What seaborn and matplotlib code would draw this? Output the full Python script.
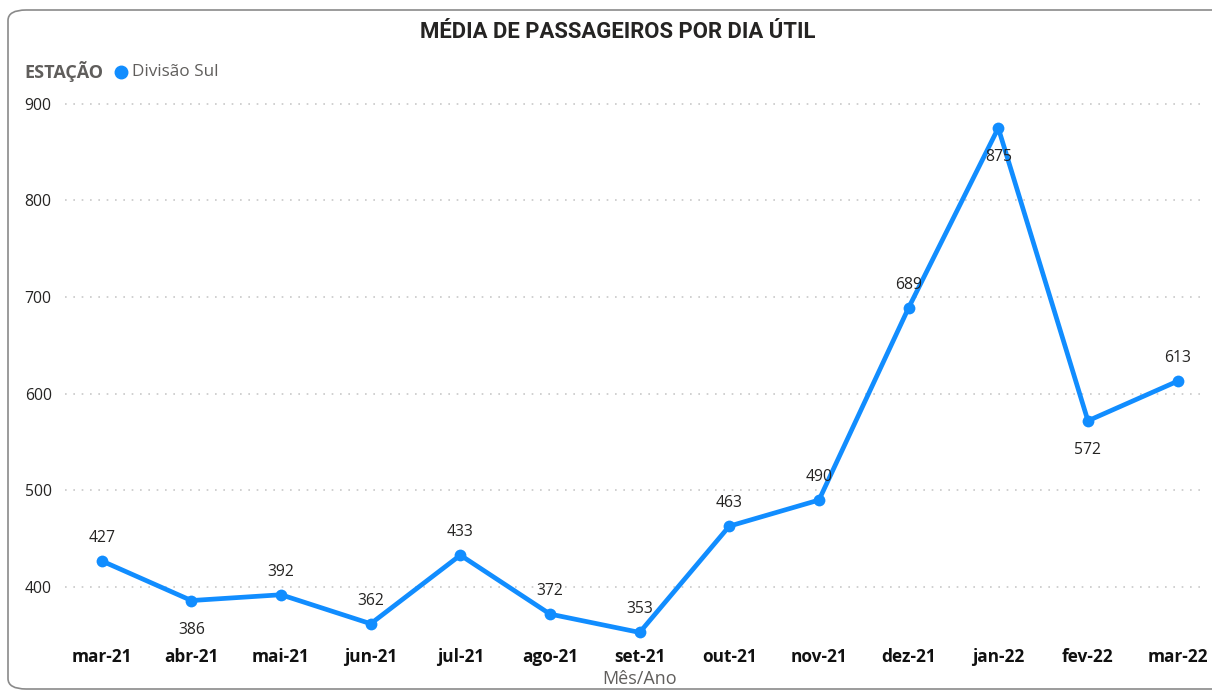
import matplotlib
matplotlib.use("Agg")
import matplotlib.pyplot as plt
from matplotlib.patches import FancyBboxPatch
import seaborn as sns
import pandas as pd

months = ["mar-21", "abr-21", "mai-21", "jun-21", "jul-21", "ago-21", "set-21",
          "out-21", "nov-21", "dez-21", "jan-22", "fev-22", "mar-22"]
values = [427, 386, 392, 362, 433, 372, 353, 463, 490, 689, 875, 572, 613]
label_below = [False, True, False, False, False, False, False, False, False, False, True, True, False]
yticks = [400, 500, 600, 700, 800, 900]

title = "MÉDIA DE PASSAGEIROS POR DIA ÚTIL"
legend_title = "ESTAÇÃO"
series_name = "Divisão Sul"
xlabel = "Mês/Ano"

blue = "#118DFF"

sns.set_style("white")
plt.rcParams['font.family'] = ['Open Sans', 'DejaVu Sans']

W, H = 1212, 695
fig = plt.figure(figsize=(W / 100, H / 100), dpi=100)

# rounded card border
card = FancyBboxPatch((8 / W, 6 / H), (W - 8) / W + 0.02, (H - 16) / H,
                      boxstyle="round,pad=0,rounding_size=0.015",
                      transform=fig.transFigure, facecolor="white",
                      edgecolor="#8a8a8a", linewidth=1.2, zorder=-5)
fig.patches.append(card)

left, right = 65 / W, 1200 / W
bottom, top = 1 - 645 / H, 1 - 99 / H
ax = fig.add_axes([left, bottom, right - left, top - bottom])
ax.set_zorder(2)
ax.set_facecolor("none")

df = pd.DataFrame({"Mês/Ano": months, "Valor": values})
sns.lineplot(data=df, x="Mês/Ano", y="Valor", ax=ax, color=blue, linewidth=3.4,
             marker="o", markersize=8.5, markeredgewidth=0, sort=False, zorder=3)

ax.set_xlim(-0.41, 12.25)
ax.set_ylim(340, 905)
ax.set_yticks(yticks)
ax.set_yticklabels([str(v) for v in yticks], fontsize=11.3, color="#252423")
ax.set_xticks(range(len(months)))
ax.set_xticklabels(months, fontsize=12.4, fontweight="bold", color="#111111")
ax.tick_params(axis="both", length=0)
ax.tick_params(axis="x", pad=2)
for lbl in ax.get_yticklabels():
    lbl.set_horizontalalignment("left")
ax.yaxis.set_tick_params(pad=29)

for s in ax.spines.values():
    s.set_visible(False)
ax.grid(axis="y", color="#c8c8c8", linestyle=(0, (1, 4)), linewidth=1.2)
ax.grid(axis="x", visible=False)
ax.set_xlabel("")
ax.set_ylabel("")

for i, (v, below) in enumerate(zip(values, label_below)):
    off = -29 if below else 23
    ax.annotate(str(v), (i, v), xytext=(0, off * 0.72), textcoords="offset points",
                ha="center", va="center", fontsize=11.3, color="#252423", zorder=4)

fig.text(618 / W, 1 - 32 / H, title, ha="center", va="center", fontsize=15.9,
         fontweight="bold", color="#252423", family=["Roboto", "DejaVu Sans"])
fig.text(24 / W, 1 - 72 / H, legend_title, ha="left", va="center", fontsize=13,
         fontweight="bold", color="#605E5C")
fig.lines.append(plt.Line2D([121 / W], [1 - 72 / H], transform=fig.transFigure,
                            marker="o", markersize=9, color=blue, linestyle="none"))
fig.text(132 / W, 1 - 72 / H, series_name, ha="left", va="center", fontsize=12.3,
         color="#605E5C")
fig.text(640 / W, 1 - 679 / H, xlabel, ha="center", va="center", fontsize=13,
         color="#605E5C")

fig.savefig("out.png", dpi=100)
